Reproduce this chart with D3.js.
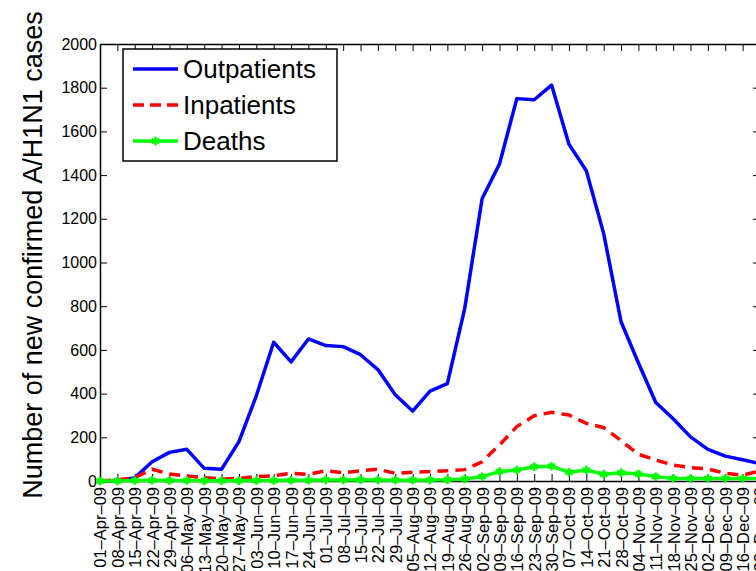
<!DOCTYPE html>
<html>
<head>
<meta charset="utf-8">
<script src="https://cdn.jsdelivr.net/npm/d3@7"></script>
<style>
  body { margin: 0; background: #fff; }
  svg { display: block; font-family: "Liberation Sans", Arial, Helvetica, sans-serif; }
</style>
</head>
<body>
<div id="chart"></div>
<script>
// weekly report dates
var dates = ["01-Apr-09","08-Apr-09","15-Apr-09","22-Apr-09","29-Apr-09",
  "06-May-09","13-May-09","20-May-09","27-May-09",
  "03-Jun-09","10-Jun-09","17-Jun-09","24-Jun-09",
  "01-Jul-09","08-Jul-09","15-Jul-09","22-Jul-09","29-Jul-09",
  "05-Aug-09","12-Aug-09","19-Aug-09","26-Aug-09",
  "02-Sep-09","09-Sep-09","16-Sep-09","23-Sep-09","30-Sep-09",
  "07-Oct-09","14-Oct-09","21-Oct-09","28-Oct-09",
  "04-Nov-09","11-Nov-09","18-Nov-09","25-Nov-09",
  "02-Dec-09","09-Dec-09","16-Dec-09","23-Dec-09"]

var outpatients = [0,0,15,88,131,145,58,54,180,390,635,545,650,620,615,578,510,395,320,411,446,790,1292,1451,1750,1745,1812,1541,1420,1132,729,540,359,285,202,145,114,97,80]
var inpatients = [0,5,15,54,32,23,15,9,12,20,24,35,30,47,38,47,54,35,40,43,47,52,88,165,249,299,314,302,264,244,185,122,96,73,61,55,35,27,46]
var deaths = [0,0,2,3,2,2,1,1,1,2,2,3,3,5,5,6,5,4,4,5,6,9,20,43,50,65,68,40,50,31,38,32,20,12,11,12,12,12,12]

var yTicks = [0,200,400,600,800,1000,1200,1400,1600,1800,2000]

var svgW = 756, svgH = 571
// plot box (right edge lies just past the picture, as in the original)
var pLeft = 100, pRight = 760, pTop = 44, pBottom = 481

var svg = d3.select('#chart').append('svg')
  .attr('width', svgW)
  .attr('height', svgH)

var x = d3.scaleLinear().domain([0, dates.length - 1]).range([pLeft, pRight])
var y = d3.scaleLinear().domain([0, 2000]).range([pBottom, pTop])

// y axis label
svg.append('text')
  .attr('transform', 'translate(42,255)rotate(-90)')
  .attr('text-anchor', 'middle')
  .style('font-size', '27px')
  .text('Number of new confirmed A/H1N1 cases')

// axes (MATLAB style box with inward ticks)
var idx = d3.range(dates.length)

svg.append('g')
  .attr('class', 'x-axis')
  .attr('transform', 'translate(0,' + pBottom + ')')
  .call(d3.axisBottom(x).tickValues(idx).tickSizeInner(-7).tickSizeOuter(0)
    .tickFormat(function(i){ return dates[i].replace(/-/g, '\u2013') }))
  .call(function(g){
    g.selectAll('text')
      .attr('transform', 'rotate(-90)')
      .attr('text-anchor', 'end')
      .attr('x', -6).attr('y', 0).attr('dy', '0.36em')
      .style('font-size', '16.5px')
  })

svg.append('g')
  .attr('transform', 'translate(0,' + pTop + ')')
  .call(d3.axisTop(x).tickValues(idx).tickSizeInner(-7).tickSizeOuter(0).tickFormat(''))

svg.append('g')
  .attr('class', 'y-axis')
  .attr('transform', 'translate(' + pLeft + ',0)')
  .call(d3.axisLeft(y).tickValues(yTicks).tickSizeInner(-7).tickSizeOuter(0).tickFormat(d3.format('d')))
  .call(function(g){ g.selectAll('text').attr('x', -3).style('font-size', '16px') })

svg.append('g')
  .attr('transform', 'translate(' + pRight + ',0)')
  .call(d3.axisRight(y).tickValues(yTicks).tickSizeInner(-7).tickSizeOuter(0).tickFormat(''))

svg.selectAll('.domain').attr('stroke', '#000').attr('stroke-width', 1.5)
svg.selectAll('.tick line').attr('stroke', '#000').attr('stroke-width', 1)
svg.selectAll('.tick text').attr('fill', '#000')

var line = function(vals){
  return d3.line().x(function(d, i){ return x(i) }).y(function(d){ return y(d) })(vals)
}

svg.append('path')
  .attr('d', line(outpatients))
  .attr('fill', 'none').attr('stroke', '#0000ff').attr('stroke-width', 3.5)
  .attr('stroke-linejoin', 'round')

svg.append('path')
  .attr('d', line(inpatients))
  .attr('fill', 'none').attr('stroke', '#ff0000').attr('stroke-width', 3.5)
  .attr('stroke-dasharray', '11,7')

svg.append('path')
  .attr('d', line(deaths))
  .attr('fill', 'none').attr('stroke', '#00ff00').attr('stroke-width', 3.5)

var star = d3.symbol().type(d3.symbolAsterisk).size(50)
svg.append('g').selectAll('path.mk')
  .data(deaths)
  .enter().append('path')
  .attr('class', 'mk')
  .attr('transform', function(d, i){ return 'translate(' + x(i) + ',' + y(d) + ')' })
  .attr('d', star)
  .attr('fill', 'none').attr('stroke', '#00ff00').attr('stroke-width', 2.5)

// legend
var legend = svg.append('g')
legend.append('rect')
  .attr('x', 123).attr('y', 49).attr('width', 214).attr('height', 112)
  .attr('fill', '#fff').attr('stroke', '#000').attr('stroke-width', 1.5)

var legItems = [
  {name: 'Outpatients', color: '#0000ff', dash: null, mark: false},
  {name: 'Inpatients', color: '#ff0000', dash: '11,6', mark: false},
  {name: 'Deaths', color: '#00ff00', dash: null, mark: true}
]
legItems.forEach(function(it, k){
  var ly = 69 + k * 36
  legend.append('line')
    .attr('x1', 133).attr('x2', 178).attr('y1', ly).attr('y2', ly)
    .attr('stroke', it.color).attr('stroke-width', 3.5)
    .attr('stroke-dasharray', it.dash)
  if (it.mark) {
    legend.append('path')
      .attr('transform', 'translate(155.5,' + ly + ')')
      .attr('d', star)
      .attr('fill', 'none').attr('stroke', it.color).attr('stroke-width', 2.5)
  }
  legend.append('text')
    .attr('x', 183).attr('y', ly + 9)
    .style('font-size', '26px')
    .text(it.name)
})
</script>
</body>
</html>
